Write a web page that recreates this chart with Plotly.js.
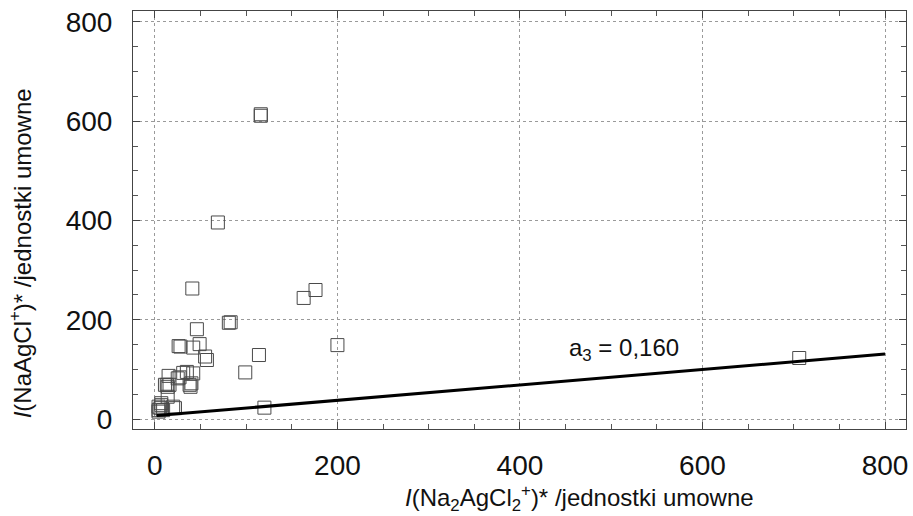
<!DOCTYPE html>
<html>
<head>
<meta charset="utf-8">
<script src="https://cdn.plot.ly/plotly-3.0.1.min.js"></script>
<style>html,body{margin:0;padding:0;background:#fff}#chart{width:913px;height:516px}</style>
</head>
<body>
<div id="chart"></div>
<script>
const xNa2AgCl2 = [706, 200, 120, 114, 99, 163, 176, 116, 116, 69, 41, 81, 83, 46, 26, 28, 49, 42, 55, 57,
                   31, 35, 42, 27, 25, 15, 13, 14, 38, 39, 14, 4, 7, 9, 20, 4, 6, 22, 16, 11, 40, 7, 4];
const yNaAgCl   = [123, 149, 23, 129, 94, 244, 260, 611, 614, 396, 263, 194, 195, 181, 147, 146, 151, 144, 126, 119,
                   93, 95, 92, 84, 82, 87, 69, 65, 69, 65, 45, 25, 28, 18, 25, 18, 22, 22, 69, 69, 72, 32, 15];
// Fitted line end points, slope a3 = 0.160
const fitX = [2, 800];
const fitY = [7, 131];
const tickVals = [0, 200, 400, 600, 800];
const tickText = ['0', '200', '400', '600', '800'];

const FAM = 'Liberation Sans, Arial, sans-serif';
const axisFont = {family: FAM, size: 28, color: '#111'};
const common = {
  tickvals: tickVals, ticktext: tickText,
  showgrid: true, gridcolor: '#9a9a9a', griddash: 'dot', gridwidth: 1,
  zeroline: false, showline: true, linecolor: '#444', linewidth: 1, mirror: 'allticks',
  ticks: 'inside', ticklen: 7, tickcolor: '#444',
  minor: {dtick: 50, ticks: 'inside', ticklen: 5, tickcolor: '#555', showgrid: false},
  tickfont: axisFont
};

const data = [
  {x: xNa2AgCl2, y: yNaAgCl, type: 'scatter', mode: 'markers',
   marker: {symbol: 'square-open', size: 13, color: '#4a4a4a', line: {width: 1, color: '#4a4a4a'}}},
  {x: fitX, y: fitY, type: 'scatter', mode: 'lines', line: {color: '#000', width: 3}}
];

const layout = {
  width: 913, height: 516,
  margin: {l: 133, r: 7, t: 11, b: 87},
  paper_bgcolor: '#fff', plot_bgcolor: '#fff',
  showlegend: false,
  xaxis: Object.assign({}, common, {range: [-24, 823], ticklabelstandoff: 11}),
  yaxis: Object.assign({}, common, {range: [-20, 822], ticklabelstandoff: 14}),
  annotations: [
    {xref: 'x', yref: 'y', x: 514, y: 141, text: 'a<sub>3</sub> = 0,160', showarrow: false,
     font: {family: FAM, size: 24, color: '#111'}},
    {xref: 'paper', yref: 'paper', x: 0.578, y: -0.166, yanchor: 'middle', xanchor: 'center',
     text: '<i>I</i>(Na<sub>2</sub>AgCl<sub>2</sub><sup>+</sup>)* /jednostki umowne', showarrow: false,
     font: {family: FAM, size: 24, color: '#111'}},
    {xref: 'paper', yref: 'paper', x: -0.145, y: 0.42, xanchor: 'center', yanchor: 'middle', textangle: -90,
     text: '<i>I</i>(NaAgCl<sup>+</sup>)* /jednostki umowne', showarrow: false,
     font: {family: FAM, size: 24, color: '#111'}}
  ]
};

Plotly.newPlot('chart', data, layout, {displayModeBar: false, staticPlot: true});
</script>
</body>
</html>
